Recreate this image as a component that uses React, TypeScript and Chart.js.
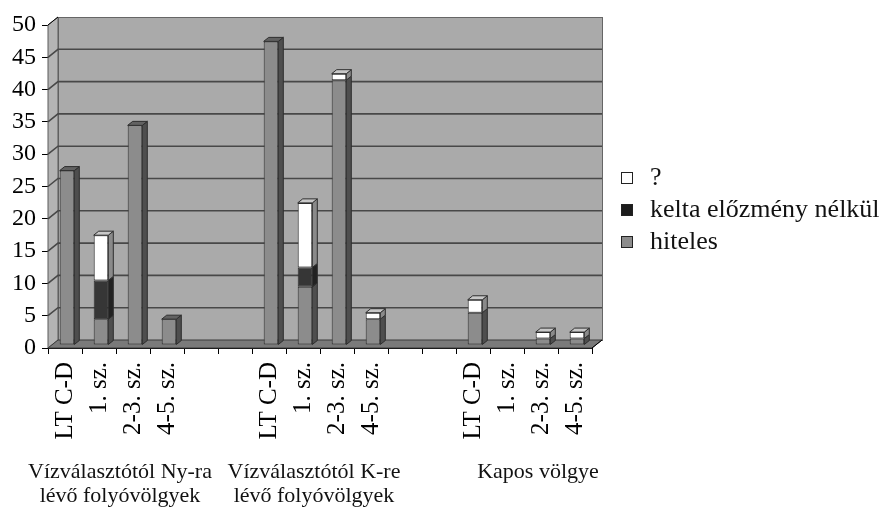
import React, { useEffect, useRef } from 'react';
import { Chart, registerables } from 'chart.js';

Chart.register(...registerables);

// ---- data ----
const categories = [
  'LT C-D', '1. sz.', '2-3. sz.', '4-5. sz.', '', '',
  'LT C-D', '1. sz.', '2-3. sz.', '4-5. sz.', '', '',
  'LT C-D', '1. sz.', '2-3. sz.', '4-5. sz.',
];
const hiteles = [27, 4, 34, 4, 0, 0, 47, 9, 41, 4, 0, 0, 5, 0, 1, 1];
const keltaNelkul = [0, 6, 0, 0, 0, 0, 0, 3, 0, 0, 0, 0, 0, 0, 0, 0];
const kerdeses = [0, 7, 0, 0, 0, 0, 0, 10, 1, 1, 0, 0, 2, 0, 1, 1];
const seriesNames = ['hiteles', 'kelta előzmény nélkül', '?'];
const yMin = 0;
const yMax = 50;
const yStep = 5;
const groupLines = [
  ['Vízválasztótól Ny-ra', 'lévő folyóvölgyek'],
  ['Vízválasztótól K-re', 'lévő folyóvölgyek'],
  ['Kapos völgye'],
];

// ---- styles / layout ----
const FONT = '"Liberation Serif", "Times New Roman", serif';
const frontColors = ['#8c8c8c', '#363636', '#ffffff'];
const sideColors = ['#4e4e4e', '#222222', '#8a8a8a'];
const topColors = ['#626262', '#2a2a2a', '#c8c8c8'];
const legendFill = ['#8c8c8c', '#1c1c1c', '#ffffff'];
const WALL_DX = 10;
const WALL_DY = 8;
const BAR_DX = 5;
const BAR_DY = 4;
const BAR_SHIFT_X = 2;
const BAR_SHIFT_Y = 3;
const groupLabelX = [120, 314, 538];
const groupLabelBaselines = [478, 502];
const legendLayout = { boxX: 621, box: 12, textX: 650, rows: [178, 210, 242], size: 26 };

const scene3d = {
  id: 'scene3d',
  beforeDatasetsDraw(chart: any) {
    const { ctx, chartArea: a } = chart;
    const y = chart.scales.y;
    ctx.save();
    // back wall
    ctx.fillStyle = '#aaaaaa';
    ctx.fillRect(a.left + WALL_DX, a.top - WALL_DY, a.right - a.left, a.bottom - a.top);
    ctx.strokeStyle = '#666666';
    ctx.lineWidth = 1;
    ctx.strokeRect(a.left + WALL_DX + 0.5, a.top - WALL_DY + 0.5, a.right - a.left, a.bottom - a.top);
    // left wall
    ctx.fillStyle = '#b4b4b4';
    ctx.beginPath();
    ctx.moveTo(a.left, a.bottom);
    ctx.lineTo(a.left, a.top);
    ctx.lineTo(a.left + WALL_DX, a.top - WALL_DY);
    ctx.lineTo(a.left + WALL_DX, a.bottom - WALL_DY);
    ctx.closePath();
    ctx.fill();
    ctx.strokeStyle = '#5a5a5a';
    ctx.stroke();
    // floor
    ctx.fillStyle = '#7a7a7a';
    ctx.beginPath();
    ctx.moveTo(a.left, a.bottom);
    ctx.lineTo(a.left + WALL_DX, a.bottom - WALL_DY);
    ctx.lineTo(a.right + WALL_DX, a.bottom - WALL_DY);
    ctx.lineTo(a.right, a.bottom);
    ctx.closePath();
    ctx.fill();
    ctx.strokeStyle = '#3a3a3a';
    ctx.stroke();
    // gridlines
    ctx.strokeStyle = '#484848';
    ctx.lineWidth = 1.6;
    for (const t of y.ticks) {
      const v = t.value;
      if (v <= yMin || v >= yMax) continue;
      const py = y.getPixelForValue(v);
      ctx.beginPath();
      ctx.moveTo(a.left, py);
      ctx.lineTo(a.left + WALL_DX, py - WALL_DY);
      ctx.lineTo(a.right + WALL_DX, py - WALL_DY);
      ctx.stroke();
    }
    ctx.lineWidth = 1;
    ctx.strokeStyle = '#000';
    ctx.beginPath();
    ctx.moveTo(a.left, a.top);
    ctx.lineTo(a.left + WALL_DX, a.top - WALL_DY);
    ctx.stroke();
    ctx.restore();
    ctx.save();
    ctx.translate(BAR_SHIFT_X, -BAR_SHIFT_Y);
  },
  afterDatasetsDraw(chart: any) {
    const { ctx } = chart;
    const n = chart.data.labels.length;
    ctx.lineWidth = 1;
    ctx.strokeStyle = '#2e2e2e';
    for (let i = 0; i < n; i++) {
      let top: any = null;
      chart.data.datasets.forEach((ds: any, d: number) => {
        const v = ds.data[i];
        if (!v) return;
        const el = chart.getDatasetMeta(d).data[i];
        const p = el.getProps(['x', 'y', 'base', 'width'], true);
        const r = p.x + p.width / 2;
        ctx.fillStyle = sideColors[d];
        ctx.beginPath();
        ctx.moveTo(r, p.y);
        ctx.lineTo(r + BAR_DX, p.y - BAR_DY);
        ctx.lineTo(r + BAR_DX, p.base - BAR_DY);
        ctx.lineTo(r, p.base);
        ctx.closePath();
        ctx.fill();
        ctx.stroke();
        top = { p, d };
      });
      if (top) {
        const { p, d } = top;
        const l = p.x - p.width / 2;
        const r = p.x + p.width / 2;
        ctx.fillStyle = topColors[d];
        ctx.beginPath();
        ctx.moveTo(l, p.y);
        ctx.lineTo(l + BAR_DX, p.y - BAR_DY);
        ctx.lineTo(r + BAR_DX, p.y - BAR_DY);
        ctx.lineTo(r, p.y);
        ctx.closePath();
        ctx.fill();
        ctx.stroke();
      }
    }
    ctx.restore();
  },
  afterDraw(chart: any) {
    const { ctx, chartArea: a } = chart;
    ctx.save();
    ctx.strokeStyle = '#000';
    ctx.lineWidth = 1;
    ctx.beginPath();
    ctx.moveTo(a.right, a.bottom);
    ctx.lineTo(a.right + WALL_DX, a.bottom - WALL_DY);
    ctx.stroke();
    // group labels
    ctx.fillStyle = '#111';
    ctx.font = `22px ${FONT}`;
    ctx.textAlign = 'center';
    ctx.textBaseline = 'alphabetic';
    groupLines.forEach((lines, g) => {
      lines.forEach((txt, k) => {
        ctx.fillText(txt, groupLabelX[g], groupLabelBaselines[k]);
      });
    });
    // legend (reverse order)
    const L = legendLayout;
    ctx.font = `${L.size}px ${FONT}`;
    ctx.textAlign = 'left';
    ctx.textBaseline = 'middle';
    const order = [2, 1, 0];
    order.forEach((d, row) => {
      const cy = L.rows[row];
      ctx.fillStyle = legendFill[d];
      ctx.fillRect(L.boxX, cy - L.box / 2, L.box, L.box);
      ctx.strokeStyle = '#222';
      ctx.strokeRect(L.boxX + 0.5, cy - L.box / 2 + 0.5, L.box - 1, L.box - 1);
      ctx.fillStyle = '#111';
      ctx.fillText(seriesNames[d], L.textX, cy);
    });
    ctx.restore();
  },
};

export default function App() {
  const ref = useRef<HTMLCanvasElement>(null);
  useEffect(() => {
    if (!ref.current) return;
    const seriesData = [hiteles, keltaNelkul, kerdeses];
    const chart = new Chart(ref.current, {
      type: 'bar',
      data: {
        labels: categories,
        datasets: seriesData.map((data, d) => ({
          label: seriesNames[d],
          data,
          backgroundColor: frontColors[d],
          borderColor: '#2e2e2e',
          borderWidth: 1,
          borderSkipped: false,
          barPercentage: 0.43,
          categoryPercentage: 1,
          clip: false,
        })),
      },
      options: {
        animation: false,
        responsive: false,
        maintainAspectRatio: false,
        layout: { padding: { top: 25, right: 297, bottom: 0, left: 0 } },
        plugins: { legend: { display: false }, tooltip: { enabled: false } },
        scales: {
          x: {
            stacked: true,
            offset: true,
            grid: { display: true, drawOnChartArea: false, drawTicks: true, tickLength: 6, color: '#000', offset: true },
            border: { display: true, color: '#000' },
            ticks: {
              autoSkip: false,
              minRotation: 90,
              maxRotation: 90,
              padding: 8,
              color: '#000',
              font: { family: FONT, size: 25 },
            },
            afterFit: (s: any) => { s.height = 167; },
          },
          y: {
            stacked: true,
            min: yMin,
            max: yMax,
            ticks: { stepSize: yStep, padding: 6, color: '#000', font: { family: FONT, size: 24 } },
            grid: { display: true, drawOnChartArea: false, drawTicks: true, tickLength: 6, color: '#000' },
            border: { display: true, color: '#000' },
            afterFit: (s: any) => { s.width = 48; },
          },
        },
      },
      plugins: [scene3d],
    });
    return () => chart.destroy();
  }, []);
  return (
    <div style={{ width: 889, height: 515, position: 'relative' }}>
      <style>{'body{margin:0}'}</style>
      <canvas ref={ref} width={889} height={515} style={{ display: 'block' }} />
    </div>
  );
}
